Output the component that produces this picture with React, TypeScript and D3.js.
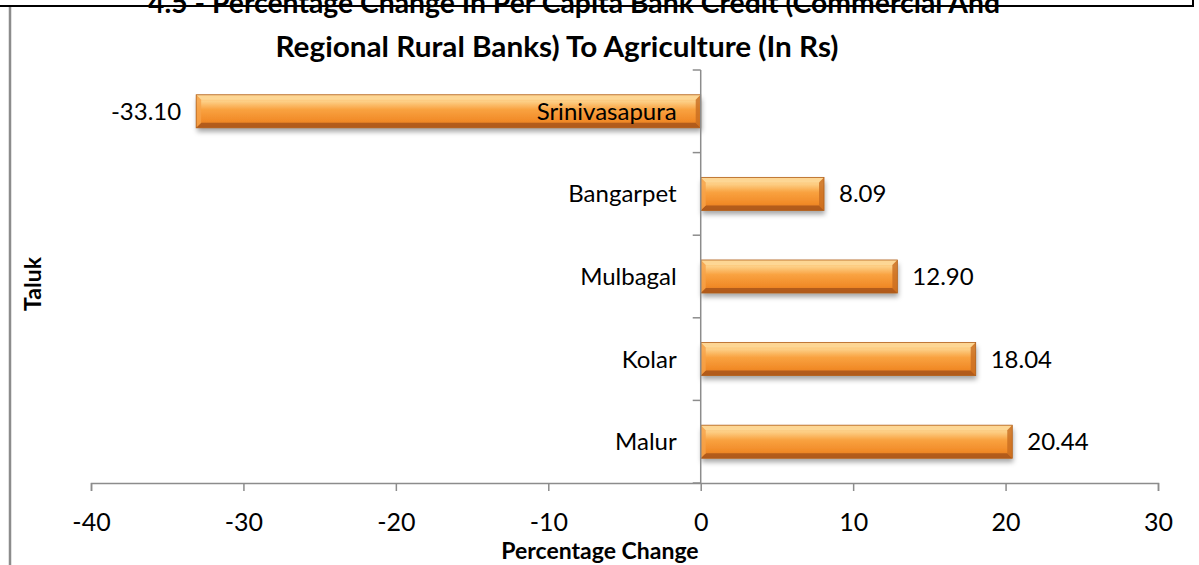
import React, { useEffect, useRef } from "react";
import * as d3 from "d3";

const talukNames = ["Srinivasapura", "Bangarpet", "Mulbagal", "Kolar", "Malur"];
const percentChange = [-33.1, 8.09, 12.9, 18.04, 20.44];
const xTickValues = [-40, -30, -20, -10, 0, 10, 20, 30];
const titleLines = [
  "4.5 - Percentage Change In Per Capita Bank Credit (Commercial And",
  "Regional Rural Banks) To Agriculture (In Rs)",
];

const WIDTH = 1199;
const HEIGHT = 565;
const FONT = "Lato, 'Open Sans', sans-serif";

export default function App() {
  const ref = useRef<SVGSVGElement | null>(null);

  useEffect(() => {
    const svg = d3.select(ref.current);
    svg.selectAll("*").remove();

    const data = talukNames.map((name, i) => ({ name, value: percentChange[i] }));

    const x = d3.scaleLinear().domain([-40, 30]).range([91, 1158]);
    const y = d3
      .scaleBand()
      .domain(talukNames)
      .range([70, 483])
      .paddingInner(0.6)
      .paddingOuter(0.3);

    const defs = svg.append("defs");
    const grad = defs
      .append("linearGradient")
      .attr("id", "barGrad")
      .attr("x1", 0)
      .attr("y1", 0)
      .attr("x2", 0)
      .attr("y2", 1);
    [
      [0, "#fbbb66"],
      [0.2, "#fdcf86"],
      [0.45, "#f9a240"],
      [0.8, "#f18a27"],
      [1, "#d9731e"],
    ].forEach(([o, c]) => grad.append("stop").attr("offset", o).attr("stop-color", c));

    const shadow = defs
      .append("filter")
      .attr("id", "shadow")
      .attr("x", "-5%")
      .attr("y", "-30%")
      .attr("width", "110%")
      .attr("height", "170%");
    shadow
      .append("feDropShadow")
      .attr("dx", 1)
      .attr("dy", 4)
      .attr("stdDeviation", 2.5)
      .attr("flood-color", "#000")
      .attr("flood-opacity", 0.35);

    // frame bits from the page
    svg
      .append("line")
      .attr("x1", 10)
      .attr("x2", 10)
      .attr("y1", 6)
      .attr("y2", HEIGHT)
      .attr("stroke", "#8c8c8c")
      .attr("stroke-width", 2.5);

    // title
    const title = svg
      .append("g")
      .attr("font-family", FONT)
      .attr("font-weight", "bold")
      .attr("font-size", 29)
      .attr("text-anchor", "middle")
      .attr("fill", "#000");
    title
      .append("text")
      .attr("x", 574)
      .attr("y", 13)
      .attr("textLength", 852)
      .attr("lengthAdjust", "spacingAndGlyphs")
      .text(titleLines[0]);
    title
      .append("text")
      .attr("x", 557)
      .attr("y", 57)
      .attr("textLength", 563)
      .attr("lengthAdjust", "spacingAndGlyphs")
      .text(titleLines[1]);

    svg
      .append("path")
      .attr("d", `M0,6H1193V0`)
      .attr("fill", "none")
      .attr("stroke", "#000")
      .attr("stroke-width", 2);

    // bars
    const bars = svg.append("g");
    const b = 5;
    data.forEach((d) => {
      const x0 = Math.min(x(0), x(d.value));
      const x1 = Math.max(x(0), x(d.value));
      const y0 = y(d.name)!;
      const y1 = y0 + y.bandwidth();
      const g = bars.append("g");
      g.append("rect")
        .attr("x", x0)
        .attr("y", y0)
        .attr("width", x1 - x0)
        .attr("height", y1 - y0)
        .attr("fill", "url(#barGrad)")
        .attr("filter", "url(#shadow)");
      const poly = (pts: number[][], fill: string, op: number) =>
        g.append("polygon").attr("points", pts.map((p) => p.join(",")).join(" ")).attr("fill", fill).attr("opacity", op);
      poly([[x0, y0], [x1, y0], [x1 - b, y0 + b], [x0 + b, y0 + b]], "#fdd99a", 0.85);
      poly([[x0, y1], [x1, y1], [x1 - b, y1 - b], [x0 + b, y1 - b]], "#a9561a", 0.85);
      poly([[x0, y0], [x0 + b, y0 + b], [x0 + b, y1 - b], [x0, y1]], "#f6a24a", 0.8);
      poly([[x1, y0], [x1 - b, y0 + b], [x1 - b, y1 - b], [x1, y1]], "#c86d20", 0.8);
      g.append("rect")
        .attr("x", x0)
        .attr("y", y0)
        .attr("width", x1 - x0)
        .attr("height", y1 - y0)
        .attr("fill", "none")
        .attr("stroke", "#b0601c")
        .attr("stroke-width", 0.8);
    });

    // x axis
    const xAxis = svg
      .append("g")
      .attr("transform", "translate(0,483)")
      .call(
        d3
          .axisBottom(x)
          .tickValues(xTickValues)
          .tickFormat((d) => String(d))
          .tickSize(8)
          .tickSizeOuter(8)
          .tickPadding(22)
      );
    xAxis.select(".domain").attr("stroke", "#8c8c8c").attr("stroke-width", 1.5);
    xAxis.selectAll(".tick line").attr("stroke", "#8c8c8c").attr("stroke-width", 1.5);
    xAxis.selectAll("text").attr("font-family", FONT).attr("font-size", 25).attr("fill", "#000");

    // y axis (at zero)
    const yAxisG = svg.append("g");
    yAxisG
      .append("line")
      .attr("x1", x(0))
      .attr("x2", x(0))
      .attr("y1", 70)
      .attr("y2", 483)
      .attr("stroke", "#8c8c8c")
      .attr("stroke-width", 1.5);
    const step = y.step();
    const boundaries = d3.range(talukNames.length + 1).map((i) => 70 + i * step);
    yAxisG
      .selectAll("line.tk")
      .data(boundaries)
      .enter()
      .append("line")
      .attr("x1", x(0) - 8)
      .attr("x2", x(0))
      .attr("y1", (d) => d)
      .attr("y2", (d) => d)
      .attr("stroke", "#8c8c8c")
      .attr("stroke-width", 1.5);

    // category labels
    svg
      .append("g")
      .selectAll("text")
      .data(data)
      .enter()
      .append("text")
      .attr("x", x(0) - 24)
      .attr("y", (d) => y(d.name)! + y.bandwidth() / 2)
      .attr("dy", "0.35em")
      .attr("text-anchor", "end")
      .attr("font-family", FONT)
      .attr("font-size", 24)
      .text((d) => d.name);

    // value labels
    svg
      .append("g")
      .selectAll("text")
      .data(data)
      .enter()
      .append("text")
      .attr("x", (d) => (d.value < 0 ? x(d.value) - 15 : x(d.value) + 15))
      .attr("y", (d) => y(d.name)! + y.bandwidth() / 2)
      .attr("dy", "0.35em")
      .attr("text-anchor", (d) => (d.value < 0 ? "end" : "start"))
      .attr("font-family", FONT)
      .attr("font-size", 24)
      .text((d) => d.value.toFixed(2));

    // axis titles
    svg
      .append("text")
      .attr("x", 600)
      .attr("y", 559)
      .attr("text-anchor", "middle")
      .attr("font-family", FONT)
      .attr("font-weight", "bold")
      .attr("font-size", 23)
      .text("Percentage Change");

    svg
      .append("text")
      .attr("transform", "translate(41,284) rotate(-90)")
      .attr("text-anchor", "middle")
      .attr("font-family", FONT)
      .attr("font-weight", "bold")
      .attr("font-size", 23)
      .text("Taluk");
  }, []);

  return (
    <svg
      ref={ref}
      width={WIDTH}
      height={HEIGHT}
      style={{ position: "absolute", left: 0, top: 0, background: "#fff" }}
    />
  );
}
